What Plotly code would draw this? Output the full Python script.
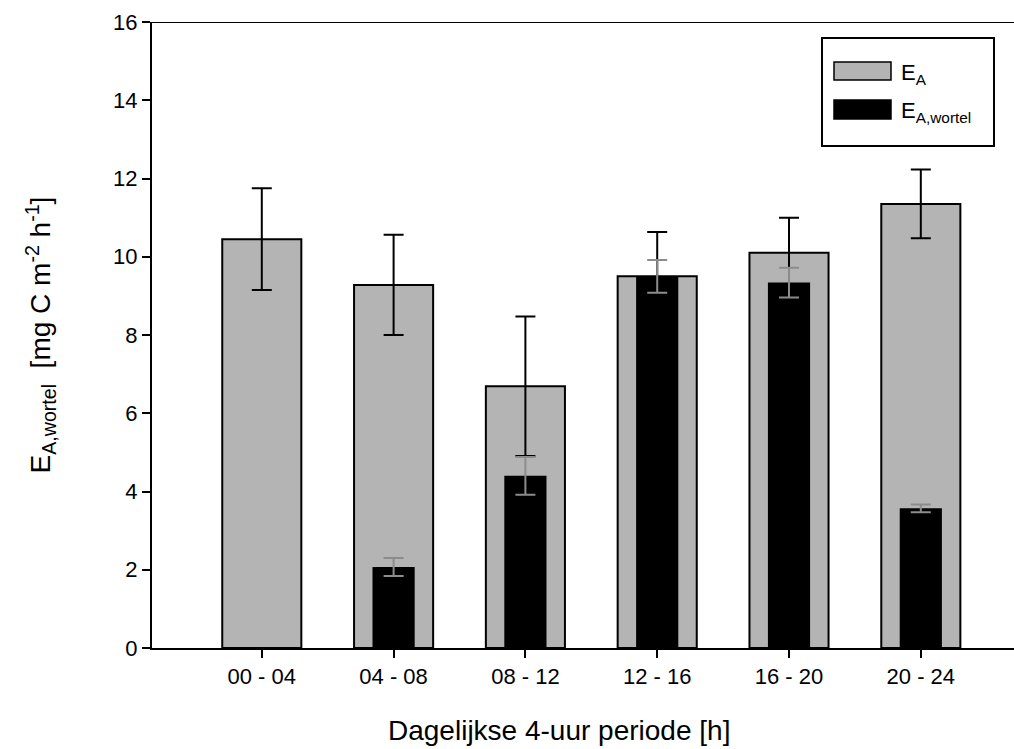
import plotly.graph_objects as go

periods = ["00 - 04", "04 - 08", "08 - 12", "12 - 16", "16 - 20", "20 - 24"]
ea_values = [10.45, 9.28, 6.69, 9.50, 10.10, 11.35]
ea_errors = [1.30, 1.28, 1.78, 1.13, 0.90, 0.88]
wortel_values = [None, 2.07, 4.40, 9.50, 9.34, 3.57]
wortel_errors = [None, 0.23, 0.48, 0.42, 0.38, 0.10]
y_ticks = [0, 2, 4, 6, 8, 10, 12, 14, 16]
legend_names = ["E<sub>A</sub>", "E<sub>A,wortel</sub>"]
legend_colors = ["#b4b4b4", "black"]
x_title = "Dagelijkse 4-uur periode [h]"
y_title = "E<sub>A,wortel</sub>  [mg C m<sup>-2</sup> h<sup>-1</sup>]"

xpos = list(range(len(periods)))
FONT = "Liberation Sans, Arial, sans-serif"

W, H = 1014, 749
L, R, T, B = 152, 0, 22, 101
PW, PH = W - L - R, H - T - B


def px(x):
    return (x - L) / PW


def py(y):
    return (H - B - y) / PH


fig = go.Figure()
fig.add_trace(go.Bar(
    x=xpos, y=ea_values, width=0.6,
    name=legend_names[0], showlegend=False,
    marker=dict(color=legend_colors[0], line=dict(color="black", width=2)),
    error_y=dict(type="data", array=ea_errors, color="black", thickness=2, width=10),
))
fig.add_trace(go.Bar(
    x=xpos, y=wortel_values, width=0.32,
    name=legend_names[1], showlegend=False,
    marker=dict(color=legend_colors[1], line=dict(color="black", width=0)),
    error_y=dict(type="data", array=wortel_errors, color="#8c8c8c", thickness=2, width=10),
))

fig.update_layout(
    barmode="overlay",
    width=W, height=H,
    margin=dict(l=L, r=R, t=T, b=B),
    plot_bgcolor="white", paper_bgcolor="white",
    font=dict(family=FONT, size=22, color="black"),
    showlegend=False,
    xaxis=dict(
        range=[-0.833, 5.707],
        tickmode="array", tickvals=xpos, ticktext=periods,
        ticks="outside", ticklen=8, tickwidth=1.5, tickcolor="black",
        showline=True, linecolor="black", linewidth=2,
        showgrid=False, zeroline=False,
        tickfont=dict(size=22),
    ),
    yaxis=dict(
        range=[0, 16],
        tickmode="array", tickvals=y_ticks,
        ticks="outside", ticklen=8, tickwidth=1.5, tickcolor="black",
        showline=True, linecolor="black", linewidth=2,
        showgrid=False, zeroline=False,
        tickfont=dict(size=22),
        title=dict(text=y_title, font=dict(size=28), standoff=54),
    ),
)
# x-axis title (placed as in the reference, slightly left of plot centre)
fig.add_annotation(xref="paper", yref="paper", x=px(559), y=py(747),
                   xanchor="center", yanchor="bottom", showarrow=False,
                   borderpad=0,
                   text=x_title, font=dict(size=28, family=FONT))

# top frame line
fig.add_shape(type="line", xref="paper", yref="y", x0=0, x1=1, y0=16, y1=16,
              line=dict(color="black", width=2))

# legend box drawn manually (wide swatches as in the reference)
fig.add_shape(type="rect", xref="paper", yref="paper",
              x0=px(822), x1=px(994), y0=py(146), y1=py(38),
              line=dict(color="black", width=2), fillcolor="white")
sw_y = [(62, 80), (100, 119)]
for i in range(2):
    fig.add_shape(type="rect", xref="paper", yref="paper",
                  x0=px(834), x1=px(891), y0=py(sw_y[i][1]), y1=py(sw_y[i][0]),
                  line=dict(color="black", width=1.5), fillcolor=legend_colors[i])
    fig.add_annotation(xref="paper", yref="paper", x=px(899), y=py((sw_y[i][0] + sw_y[i][1]) / 2 + 3),
                       xanchor="left", yanchor="middle", showarrow=False,
                       text=legend_names[i], font=dict(size=22, family=FONT))

fig.write_html("out.html")
